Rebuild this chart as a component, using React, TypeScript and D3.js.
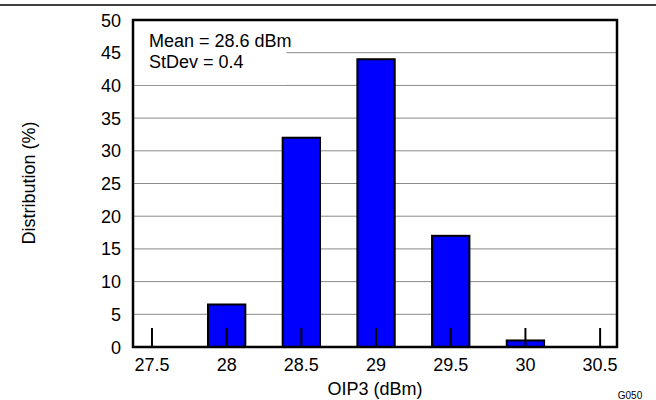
import React from "react";
import * as d3 from "d3";

const categories = [27.5, 28, 28.5, 29, 29.5, 30, 30.5];
const values = [0, 6.5, 32, 44, 17, 1, 0];
const yTicks = [0, 5, 10, 15, 20, 25, 30, 35, 40, 45, 50];
const xTickLabels = ["27.5", "28", "28.5", "29", "29.5", "30", "30.5"];
const annotations = ["Mean = 28.6 dBm", "StDev = 0.4"];

const W = 656;
const H = 400;
const L = 133;
const R = 617;
const T = 20;
const B = 347;
const font = "'Liberation Sans', Arial, sans-serif";

export default function App() {
  const x = d3.scaleLinear().domain([27.373, 30.613]).range([L, R]);
  const y = d3.scaleLinear().domain([0, 50]).range([B, T]);
  const bw = x(27.75) - x(27.5);
  return (
    <svg width={W} height={H} style={{ position: "absolute", left: 0, top: 0, background: "#fff" }}>
      <line x1={0} x2={W} y1={5} y2={5} stroke="#000" strokeWidth={1.5} />
      {yTicks.map((t) => (
        <line key={"g" + t} x1={L} x2={R} y1={y(t)} y2={y(t)} stroke="#8a8a8a" strokeWidth={1} />
      ))}
      <rect x={L + 1} y={T + 1} width={x(28.4) - L - 1} height={y(40) - T - 1.5} fill="#fff" />
      {annotations.map((a, i) => (
        <text key={a} x={149} y={47 + i * 21} fontFamily={font} fontSize={18} fill="#000">
          {a}
        </text>
      ))}
      {categories.map((c, i) =>
        values[i] > 0 ? (
          <rect
            key={"b" + c}
            x={x(c) - bw / 2}
            y={y(values[i])}
            width={bw}
            height={y(0) - y(values[i])}
            fill="#0000ff"
            stroke="#000"
            strokeWidth={2}
          />
        ) : null
      )}
      {categories.map((c) => (
        <line key={"t" + c} x1={x(c)} x2={x(c)} y1={B} y2={B - 19} stroke="#000" strokeWidth={2} />
      ))}
      <rect x={L} y={T} width={R - L} height={B - T} fill="none" stroke="#000" strokeWidth={2.5} />
      {yTicks.map((t) => (
        <text key={"y" + t} x={121} y={y(t) + 6.5} textAnchor="end" fontFamily={font} fontSize={18} fill="#000">
          {t}
        </text>
      ))}
      {categories.map((c, i) => (
        <text key={"x" + c} x={x(c)} y={371} textAnchor="middle" fontFamily={font} fontSize={18} fill="#000">
          {xTickLabels[i]}
        </text>
      ))}
      <text x={375} y={395} textAnchor="middle" fontFamily={font} fontSize={18} fill="#000">
        OIP3 (dBm)
      </text>
      <text
        transform={`translate(35, 183) rotate(-90)`}
        textAnchor="middle"
        fontFamily={font}
        fontSize={18}
        fill="#000"
      >
        Distribution (%)
      </text>
      <text x={630} y={399} textAnchor="middle" fontFamily={font} fontSize={10} fill="#000">
        G050
      </text>
    </svg>
  );
}
